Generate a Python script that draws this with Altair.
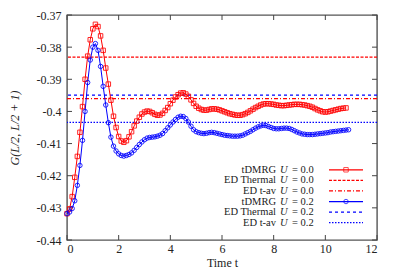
import altair as alt
import pandas as pd

# ---------------- data ----------------
DT = 0.1
red_vals = [
    -0.4318, -0.4303, -0.4265, -0.4205, -0.4140, -0.4065, -0.3985, -0.3900, -0.3828, -0.3777,
    -0.3743, -0.3729, -0.3736, -0.3765, -0.3810, -0.3865, -0.3915, -0.3965, -0.4015, -0.4050,
    -0.4078, -0.4092, -0.4096, -0.4091, -0.4079, -0.4063, -0.4045, -0.4030, -0.4018, -0.4008,
    -0.4002, -0.3999, -0.4000, -0.4004, -0.4009, -0.4012, -0.4011, -0.4006, -0.3997, -0.3988,
    -0.3976, -0.3965, -0.3955, -0.3948, -0.3943, -0.3942, -0.3946, -0.3953, -0.3964, -0.3975,
    -0.3984, -0.3990, -0.3994, -0.3996, -0.3996, -0.3994, -0.3992, -0.3992, -0.3993, -0.3995,
    -0.3998, -0.4001, -0.4004, -0.4007, -0.4009, -0.4011, -0.4012, -0.4012, -0.4010, -0.4007,
    -0.4003, -0.3998, -0.3993, -0.3988, -0.3984, -0.3980, -0.3977, -0.3976, -0.3976, -0.3977,
    -0.3978, -0.3980, -0.3981, -0.3982, -0.3982, -0.3981, -0.3980, -0.3979, -0.3978, -0.3978,
    -0.3978, -0.3979, -0.3980, -0.3982, -0.3984, -0.3987, -0.3991, -0.3995, -0.3998, -0.4001,
    -0.4002, -0.4001, -0.3999, -0.3997, -0.3995, -0.3993, -0.3991, -0.3990, -0.3989,
]
blue_vals = [
    -0.4318, -0.4313, -0.4302, -0.4278, -0.4230, -0.4168, -0.4090, -0.4000, -0.3910, -0.3840,
    -0.3800, -0.3789, -0.3810, -0.3860, -0.3922, -0.3980, -0.4035, -0.4080, -0.4108, -0.4123,
    -0.4132, -0.4137, -0.4139, -0.4137, -0.4134, -0.4129, -0.4121, -0.4112, -0.4103, -0.4095,
    -0.4088, -0.4083, -0.4081, -0.4080, -0.4079, -0.4077, -0.4074, -0.4069, -0.4060, -0.4051,
    -0.4042, -0.4033, -0.4025, -0.4018, -0.4015, -0.4016, -0.4022, -0.4033, -0.4046, -0.4057,
    -0.4063, -0.4066, -0.4068, -0.4069, -0.4068, -0.4066, -0.4065, -0.4066, -0.4068, -0.4070,
    -0.4072, -0.4074, -0.4075, -0.4076, -0.4077, -0.4077, -0.4077, -0.4076, -0.4074, -0.4070,
    -0.4066, -0.4062, -0.4057, -0.4052, -0.4048, -0.4045, -0.4043, -0.4044, -0.4047, -0.4050,
    -0.4053, -0.4054, -0.4054, -0.4053, -0.4052, -0.4052, -0.4053, -0.4056, -0.4060, -0.4064,
    -0.4067, -0.4070, -0.4071, -0.4072, -0.4072, -0.4072, -0.4071, -0.4070, -0.4069, -0.4068,
    -0.4067, -0.4066, -0.4064, -0.4063, -0.4062, -0.4061, -0.4060, -0.4059, -0.4058, -0.4057,
]
# horizontal reference levels
ed_names = ["ED Thermal U=0.0", "ED t-av U=0.0", "ED Thermal U=0.2", "ED t-av U=0.2"]
ed_vals = [-0.3831, -0.3960, -0.3949, -0.4034]

series_names = ["tDMRG U=0.0", "ED Thermal U=0.0", "ED t-av U=0.0",
                "tDMRG U=0.2", "ED Thermal U=0.2", "ED t-av U=0.2"]
legend_prefix = ["tDMRG", "ED Thermal", "ED t-av", "tDMRG", "ED Thermal", "ED t-av"]
legend_uval = ["= 0.0", "= 0.0", "= 0.0", "= 0.2", "= 0.2", "= 0.2"]
series_colors = ["#ff0000", "#ff0000", "#ff0000", "#0000ff", "#0000ff", "#0000ff"]
series_dash = [[1, 0], [3, 1.5], [4, 2, 1, 2], [1, 0], [3, 3], [1.5, 1.5]]

x_ticks = [0, 2, 4, 6, 8, 10, 12]
y_ticks = [-0.37, -0.38, -0.39, -0.40, -0.41, -0.42, -0.43, -0.44]

# ---------------- tables ----------------
W, H = 310, 225
FONT = "Liberation Serif"
FS = 12
LFS = 10.5

curve_df = pd.concat([
    pd.DataFrame({"t": [round(i * DT, 1) for i in range(len(red_vals))],
                  "v": red_vals, "name": "tDMRG U=0.0"}),
    pd.DataFrame({"t": [round(i * DT, 1) for i in range(len(blue_vals))],
                  "v": blue_vals, "name": "tDMRG U=0.2"}),
])
ed_df = pd.DataFrame({"name": ed_names, "v": ed_vals})
leg_df = pd.DataFrame({"name": series_names, "prefix": legend_prefix, "uval": legend_uval})
xt_df = pd.DataFrame({"t": x_ticks})
yt_df = pd.DataFrame({"v": y_ticks})

xscale = alt.Scale(domain=[0, 12], nice=False)
yscale = alt.Scale(domain=[-0.44, -0.37], nice=False, zero=False)
color = alt.Color("name:N", scale=alt.Scale(domain=series_names, range=series_colors), legend=None)
dash = alt.StrokeDash("name:N", scale=alt.Scale(domain=series_names, range=series_dash), legend=None)
shape = alt.Shape("name:N", scale=alt.Scale(domain=["tDMRG U=0.0", "tDMRG U=0.2"],
                                            range=["square", "circle"]), legend=None)

x_axis = alt.Axis(values=x_ticks, ticks=False, domain=False, grid=False,
                  labelOverlap=False,
                  labelFont=FONT, labelFontSize=FS, labelColor="#222",
                  labelPadding=3, title="Time t", titleFont=FONT,
                  titleFontSize=FS, titleFontWeight="normal", titleColor="#222",
                  titlePadding=3)
y_axis = alt.Axis(values=y_ticks, ticks=False, domain=False, grid=False,
                  labelOverlap=False,
                  labelExpr="replace(format(datum.value, '.2~f'), '\u2212', '-')",
                  labelFont=FONT, labelFontSize=FS, labelColor="#222",
                  labelPadding=6, title="G(L/2, L/2 + 1)", titleFont=FONT,
                  titleFontSize=FS, titleFontWeight="normal", titleFontStyle="italic",
                  titleColor="#222", titlePadding=15)
X = alt.X("t:Q", scale=xscale, axis=x_axis)
Y = alt.Y("v:Q", scale=yscale, axis=y_axis)

hlines = alt.Chart(ed_df).mark_rule(strokeWidth=1.2).encode(
    y=Y, color=color, strokeDash=dash)

lines = alt.Chart(curve_df).mark_line(strokeWidth=1).encode(
    x=X, y=Y, color=color, detail="name:N")
points = alt.Chart(curve_df).mark_point(size=20, strokeWidth=1, filled=False, opacity=0.85).encode(
    x=X, y=Y, color=color, shape=shape)

# inward ticks on all four sides
tick_b = alt.Chart(xt_df).mark_rule(color="#444", strokeWidth=1).encode(
    x=X, y=alt.value(H), y2=alt.value(H - 5))
tick_t = alt.Chart(xt_df).mark_rule(color="#444", strokeWidth=1).encode(
    x=X, y=alt.value(0), y2=alt.value(5))
tick_l = alt.Chart(yt_df).mark_rule(color="#444", strokeWidth=1).encode(
    y=Y, x=alt.value(0), x2=alt.value(5))
tick_r = alt.Chart(yt_df).mark_rule(color="#444", strokeWidth=1).encode(
    y=Y, x=alt.value(W - 5), x2=alt.value(W))

main = alt.layer(hlines, tick_b, tick_t, tick_l, tick_r, lines, points)

# ---------------- legend (inside, bottom right) ----------------
LY = alt.Y("name:N", sort=series_names,
           scale=alt.Scale(domain=series_names, range=[149.5, 213], padding=0), axis=None)
leg_base = alt.Chart(leg_df)
leg_prefix = leg_base.mark_text(align="right", baseline="middle", font=FONT,
                                fontSize=LFS, color="#222").encode(
    x=alt.value(209), y=LY, text="prefix:N")
leg_u = leg_base.mark_text(align="left", baseline="middle", font=FONT, fontSize=LFS,
                           fontStyle="italic", color="#222").encode(
    x=alt.value(213), y=LY, text=alt.value("U"))
leg_eq = leg_base.mark_text(align="left", baseline="middle", font=FONT, fontSize=LFS,
                            color="#222").encode(
    x=alt.value(225), y=LY, text="uval:N")
leg_line = leg_base.mark_rule(strokeWidth=1.2).encode(
    x=alt.value(262), x2=alt.value(296), y=LY, color=color, strokeDash=dash)
leg_pt = leg_base.transform_filter(
    alt.FieldOneOfPredicate(field="name", oneOf=["tDMRG U=0.0", "tDMRG U=0.2"])
).mark_point(size=20, strokeWidth=1, filled=False).encode(
    x=alt.value(279), y=LY, color=color, shape=shape)

legend = alt.layer(leg_prefix, leg_u, leg_eq, leg_line, leg_pt)

chart = alt.layer(main, legend).resolve_scale(y="independent").properties(
    width=W, height=H,
    autosize=alt.AutoSizeParams(type="none"),
    padding={"left": 59, "top": 7, "right": 10, "bottom": 31},
).configure_view(stroke="#555", strokeWidth=1.4)

chart.save("out.html", embed_options={"renderer": "svg", "actions": False})
